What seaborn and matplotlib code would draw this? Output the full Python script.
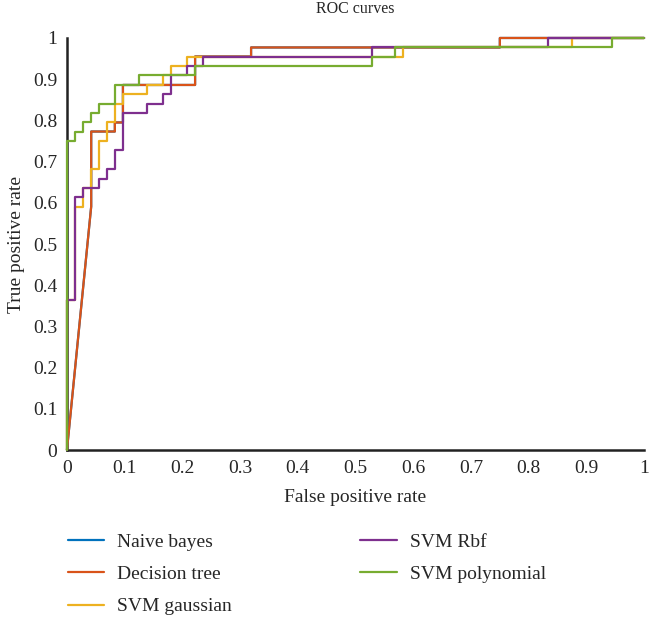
import matplotlib
matplotlib.use("Agg")
import matplotlib.pyplot as plt
import seaborn as sns
import pandas as pd

# ROC curve vertices (fpr, tpr)
models = ["Naive bayes", "Decision tree", "SVM gaussian", "SVM Rbf", "SVM polynomial"]
colors = ["#0072BD", "#D95319", "#EDB120", "#7E2F8E", "#77AC30"]

# naive bayes is fully hidden behind the decision tree curve in the picture
nb_fpr = [0, 0.042, 0.042, 0.083, 0.083, 0.097, 0.097, 0.222, 0.222, 0.319, 0.319, 0.75, 0.75, 1]
nb_tpr = [0, 0.591, 0.773, 0.773, 0.795, 0.795, 0.886, 0.886, 0.955, 0.955, 0.977, 0.977, 1, 1]

dt_fpr = [0, 0.042, 0.042, 0.083, 0.083, 0.097, 0.097, 0.222, 0.222, 0.319, 0.319, 0.75, 0.75, 1]
dt_tpr = [0, 0.591, 0.773, 0.773, 0.795, 0.795, 0.886, 0.886, 0.955, 0.955, 0.977, 0.977, 1, 1]

gau_fpr = [0, 0, 0.014, 0.014, 0.028, 0.028, 0.042, 0.042, 0.056, 0.056, 0.069, 0.069, 0.083, 0.083,
           0.097, 0.097, 0.139, 0.139, 0.167, 0.167, 0.181, 0.181, 0.208, 0.208, 0.583, 0.583, 0.875, 0.875, 1]
gau_tpr = [0, 0.364, 0.364, 0.591, 0.591, 0.636, 0.636, 0.682, 0.682, 0.75, 0.75, 0.795, 0.795, 0.841,
           0.841, 0.864, 0.864, 0.886, 0.886, 0.909, 0.909, 0.932, 0.932, 0.955, 0.955, 0.977, 0.977, 1, 1]

rbf_fpr = [0, 0, 0.014, 0.014, 0.028, 0.028, 0.056, 0.056, 0.069, 0.069, 0.083, 0.083, 0.097, 0.097,
           0.139, 0.139, 0.167, 0.167, 0.181, 0.181, 0.208, 0.208, 0.236, 0.236, 0.528, 0.528, 0.833, 0.833, 1]
rbf_tpr = [0, 0.364, 0.364, 0.614, 0.614, 0.636, 0.636, 0.659, 0.659, 0.682, 0.682, 0.727, 0.727, 0.818,
           0.818, 0.841, 0.841, 0.864, 0.864, 0.909, 0.909, 0.932, 0.932, 0.955, 0.955, 0.977, 0.977, 1, 1]

poly_fpr = [0, 0, 0.014, 0.014, 0.028, 0.028, 0.042, 0.042, 0.056, 0.056, 0.083, 0.083,
            0.125, 0.125, 0.222, 0.222, 0.528, 0.528, 0.569, 0.569, 0.944, 0.944, 1]
poly_tpr = [0, 0.75, 0.75, 0.773, 0.773, 0.795, 0.795, 0.818, 0.818, 0.841, 0.841, 0.886,
            0.886, 0.909, 0.909, 0.932, 0.932, 0.955, 0.955, 0.977, 0.977, 1, 1]

ticks = [0, 0.1, 0.2, 0.3, 0.4, 0.5, 0.6, 0.7, 0.8, 0.9, 1]
tick_labels = ["0", "0.1", "0.2", "0.3", "0.4", "0.5", "0.6", "0.7", "0.8", "0.9", "1"]

curves = [(nb_fpr, nb_tpr), (dt_fpr, dt_tpr), (gau_fpr, gau_tpr), (rbf_fpr, rbf_tpr), (poly_fpr, poly_tpr)]
frames = []
for name, (f, t) in zip(models, curves):
    frames.append(pd.DataFrame({"fpr": f, "tpr": t, "model": name}))
df = pd.concat(frames, ignore_index=True)

sns.set_style("white")
plt.rcParams["font.family"] = ["Liberation Serif", "DejaVu Serif"]

fig = plt.figure(figsize=(6.5, 6.33), dpi=100)
ax = fig.add_axes([0.103, 0.289, 0.888, 0.651])

sns.lineplot(data=df, x="fpr", y="tpr", hue="model", hue_order=models,
             palette=dict(zip(models, colors)), sort=False, estimator=None,
             linewidth=1.6, ax=ax, legend=False, clip_on=False, zorder=3)

ax.set_xlim(0, 1)
ax.set_ylim(0, 1.0)
ax.set_xticks(ticks)
ax.set_xticklabels(tick_labels)
ax.set_yticks(ticks)
ax.set_yticklabels(tick_labels)
ax.tick_params(direction="in", length=5, width=1.5, labelsize=14, pad=7, color="#222222")
for s in ["top", "right"]:
    ax.spines[s].set_visible(False)
for s in ["left", "bottom"]:
    ax.spines[s].set_linewidth(1.8)
    ax.spines[s].set_color("#222222")

ax.set_xlabel("False positive rate", fontsize=14, labelpad=9)
ax.set_ylabel("True positive rate", fontsize=14, labelpad=6)
ax.set_title("ROC curves", fontsize=11.5, pad=18)

handles = [plt.Line2D([], [], color=c, linewidth=1.6) for c in colors]
fig.legend(handles, models, loc="upper left", bbox_to_anchor=(0.077, 0.185), ncol=2,
           frameon=False, fontsize=14, handlelength=1.9, handletextpad=0.65,
           labelspacing=0.75, columnspacing=6.6)

fig.savefig("out.png", dpi=100)
